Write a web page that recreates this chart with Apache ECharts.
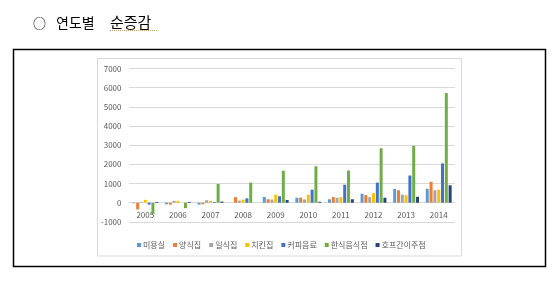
<!DOCTYPE html>
<html><head><meta charset="utf-8">
<script src="https://cdn.jsdelivr.net/npm/echarts@6/dist/echarts.min.js"></script>
<style>html,body{margin:0;padding:0;background:#fff}#c{width:558px;height:281px}</style>
</head><body><div id="c"></div>
<script>
const categories = ['2005','2006','2007','2008','2009','2010','2011','2012','2013','2014'];
const seriesNames = ['미용실','양식집','일식집','치킨집','커피음료','한식음식점','호프간이주점'];
const s미용실 = [-30, -80, -100, 0, 300, 260, 180, 470, 720, 730];
const s양식집 = [-350, -100, -80, 290, 180, 270, 300, 400, 650, 1090];
const s일식집 = [30, 100, 130, 110, 170, 170, 260, 290, 420, 650];
const s치킨집 = [150, 100, 100, 160, 420, 420, 290, 500, 390, 680];
const s커피음료 = [-100, 0, 40, 230, 340, 680, 940, 1050, 1420, 2050];
const s한식음식점 = [-600, -280, 980, 1050, 1670, 1900, 1680, 2840, 2970, 5720];
const s호프간이주점 = [40, 40, 60, 0, 140, 50, 180, 260, 310, 910];
const yTicks = {min: -1000, max: 7000, interval: 1000};
const titleParts = ['○', '연도별', '순증감'];

const values = [s미용실, s양식집, s일식집, s치킨집, s커피음료, s한식음식점, s호프간이주점];
const colors = ['#5B9BD5','#ED7D31','#A5A5A5','#FFC000','#4472C4','#70AD47','#264478'];
const font = '"Noto Sans CJK KR", "Noto Sans", sans-serif';

const chart = echarts.init(document.getElementById('c'), null, {renderer: 'canvas'});
chart.setOption({
  animation: false,
  backgroundColor: '#fff',
  color: colors,
  graphic: [
    {type: 'rect', shape: {x: 13.5, y: 49.5, width: 532, height: 217}, style: {fill: 'none', stroke: '#000', lineWidth: 1.5}, z: 0},
    {type: 'rect', shape: {x: 97.5, y: 58.5, width: 364, height: 197.5}, style: {fill: '#fff', stroke: '#D9D9D9', lineWidth: 1}, z: 0},
    {type: 'text', x: 33, y: 22.7, style: {text: titleParts[0], font: '13px ' + font, fill: '#000', textVerticalAlign: 'middle'}},
    {type: 'text', x: 56, y: 22.7, style: {text: titleParts[1], font: '14px ' + font, fill: '#000', textVerticalAlign: 'middle'}},
    {type: 'text', x: 110, y: 22.7, style: {text: titleParts[2], font: '15px ' + font, fill: '#000', textVerticalAlign: 'middle'}},
    {type: 'line', shape: {x1: 110, y1: 30.5, x2: 157, y2: 30.5}, style: {stroke: '#C8A060', lineWidth: 1, lineDash: [1, 1]}}
  ],
  grid: {left: 129, right: 103, top: 68.5, bottom: 59.1, containLabel: false},
  legend: {
    data: seriesNames,
    left: 132, top: 236,
    icon: 'rect', itemWidth: 4, itemHeight: 4, itemGap: 8,
    textStyle: {fontFamily: font, fontSize: 8, color: '#595959', padding: [0, 0, 0, -3]}
  },
  xAxis: {
    type: 'category', data: categories,
    axisLine: {onZero: true, lineStyle: {color: '#D9D9D9', width: 1}},
    axisTick: {show: false},
    axisLabel: {fontFamily: font, fontSize: 8, color: '#595959', margin: -10.5}
  },
  yAxis: {
    type: 'value', min: yTicks.min, max: yTicks.max, interval: yTicks.interval,
    axisLine: {show: false}, axisTick: {show: false},
    axisLabel: {fontFamily: font, fontSize: 8, color: '#595959', margin: 7.5, formatter: v => String(v)},
    splitLine: {lineStyle: {color: '#D9D9D9', width: 1}}
  },
  series: seriesNames.map((n, i) => ({
    name: n, type: 'bar', data: values[i], barWidth: 3, barGap: '27%',
    itemStyle: {color: colors[i]}
  }))
});
</script></body></html>
